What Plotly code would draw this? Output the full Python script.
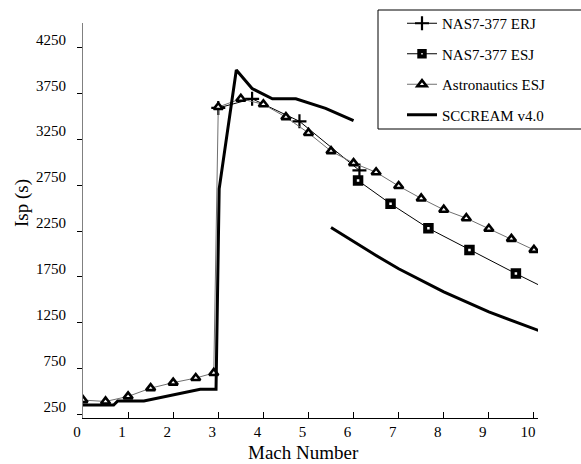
import plotly.graph_objects as go

# ---- data ----
erj_mach = [3.0, 3.75, 4.8, 6.13]
erj_isp = [3590, 3690, 3445, 2910]

esj_mach = [6.1, 6.82, 7.66, 8.57, 9.6, 10.1]
esj_isp = [2800, 2547, 2280, 2045, 1787, 1665]

astro_mach = [0.0, 0.5, 1.0, 1.5, 2.0, 2.5, 2.9, 3.0, 3.5, 4.0, 4.5, 5.0, 5.5, 6.0, 6.5, 7.0, 7.5, 8.0, 8.5, 9.0, 9.5, 10.0]
astro_isp = [410, 395, 450, 540, 600, 650, 705, 3600, 3690, 3630, 3490, 3318, 3120, 2990, 2890, 2740, 2605, 2482, 2390, 2275, 2165, 2045]

scc_mach = [0.0, 0.68, 0.77, 1.35, 2.6, 2.95, 3.02, 3.4, 3.75, 4.2, 4.72, 5.38, 6.0, None,
            5.5, 6.05, 6.5, 7.0, 8.0, 9.0, 10.0, 10.1]
scc_isp = [356, 356, 400, 400, 527, 527, 2710, 4003, 3802, 3690, 3690, 3585, 3451, None,
           2288, 2120, 1985, 1840, 1588, 1370, 1182, 1168]

y_ticks = [250, 750, 1250, 1750, 2250, 2750, 3250, 3750, 4250]
y_labels = [str(v) for v in y_ticks]
x_ticks = list(range(0, 11))
x_labels = [str(v) for v in x_ticks]

FONT = "Liberation Serif, Times New Roman, Times, serif"

fig = go.Figure()

fig.add_trace(go.Scatter(
    x=erj_mach, y=erj_isp, name="NAS7-377 ERJ", mode="lines+markers",
    legendgroup="a",
    line=dict(color="black", width=1),
    marker=dict(symbol="cross-thin", size=10, color="black",
                line=dict(color="black", width=2.2)),
))
esj_sizes = [6.5] * (len(esj_mach) - 1) + [0]
fig.add_trace(go.Scatter(
    x=esj_mach, y=esj_isp, name="NAS7-377 ESJ", mode="lines+markers",
    legendgroup="b",
    line=dict(color="black", width=1),
    marker=dict(symbol="square", size=esj_sizes, color="white", opacity=1,
                line=dict(color="black", width=4)),
))
fig.add_trace(go.Scatter(
    x=astro_mach, y=astro_isp, name="Astronautics ESJ", mode="lines+markers",
    legendgroup="c",
    line=dict(color="#707070", width=1),
    marker=dict(symbol="triangle-up", size=8, color="white",
                line=dict(color="black", width=2.6)),
))
fig.add_trace(go.Scatter(
    x=scc_mach, y=scc_isp, name="SCCREAM v4.0", mode="lines",
    legendgroup="d",
    line=dict(color="black", width=3),
    connectgaps=False,
))

L, R, T, B = 83, 43, 23, 46
W, H = 581, 464
pw = W - L - R
ph = H - T - B

def px2paper_x(px):
    return (px - L) / pw

def px2paper_y(py):
    return (H - B - py) / ph

fig.update_layout(
    width=W, height=H,
    margin=dict(l=L, r=R, t=T, b=B, pad=0, autoexpand=False),
    paper_bgcolor="white", plot_bgcolor="white",
    font=dict(family=FONT, size=15, color="black"),
    showlegend=True,
    legend=dict(
        x=px2paper_x(402), y=px2paper_y(7), xanchor="left", yanchor="top",
        bgcolor="rgba(0,0,0,0)", borderwidth=0,
        font=dict(family=FONT, size=15, color="black"),
        tracegroupgap=8,
    ),
    shapes=[dict(type="rect", xref="paper", yref="paper",
                 x0=px2paper_x(378), x1=px2paper_x(620),
                 y0=px2paper_y(129), y1=px2paper_y(10),
                 line=dict(color="black", width=1), fillcolor="rgba(0,0,0,0)",
                 layer="above")],
    annotations=[
        dict(text="Isp (s)", xref="paper", yref="paper",
             x=px2paper_x(22), y=px2paper_y(203), textangle=-90,
             showarrow=False, xanchor="center", yanchor="middle",
             font=dict(family=FONT, size=19, color="black")),
        dict(text="Mach Number", xref="paper", yref="paper",
             x=px2paper_x(303), y=px2paper_y(452),
             showarrow=False, xanchor="center", yanchor="middle",
             font=dict(family=FONT, size=19, color="black")),
    ],
)

fig.update_xaxes(
    range=[0, 10.09], tickmode="array", tickvals=x_ticks, ticktext=x_labels,
    showgrid=False, zeroline=False, showline=True, linecolor="black", linewidth=1,
    ticks="inside", ticklen=6, tickcolor="black", tickwidth=1,
    tickfont=dict(family=FONT, size=15, color="black"),
    ticklabelshift=-6,
)
fig.update_yaxes(
    range=[215, 4515], tickmode="array", tickvals=y_ticks, ticktext=y_labels,
    showgrid=False, zeroline=False, showline=True, linecolor="#808080", linewidth=1,
    ticks="outside", ticklen=5, tickcolor="black", tickwidth=1,
    tickfont=dict(family=FONT, size=15, color="black"),
    ticklabelshift=-8, ticklabelstandoff=8,
)

fig.write_html("out.html", config={"displayModeBar": False},
               post_script="document.body.style.margin='0';")
